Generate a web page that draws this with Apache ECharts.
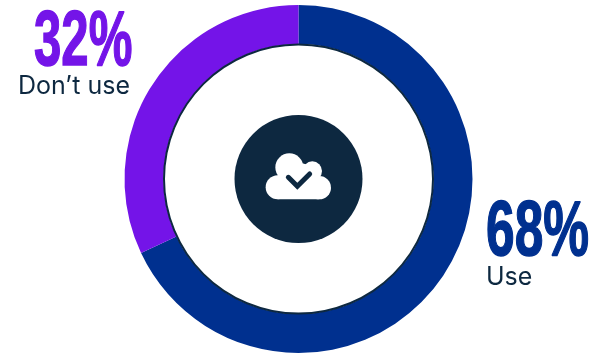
<!DOCTYPE html>
<html>
<head>
<meta charset="utf-8">
<style>html,body{margin:0;padding:0;background:#fff}#c{width:593px;height:354px}</style>
<script src="https://cdn.jsdelivr.net/npm/echarts@6/dist/echarts.min.js"></script>
</head>
<body>
<div id="c"></div>
<script>
// Share of respondents by cloud usage
const categories = ['Use', "Don\u2019t use"];
const values = [68, 32];
const colors = ['#00308F', '#7414E8'];
const ink = '#0D2840';
const center = [298.5, 179];

const chart = echarts.init(document.getElementById('c'), null, {renderer: 'canvas'});

// Large condensed percentage with its caption below
function callout(i, bigX, bigY, squeeze, capX, capY) {
  return [
    {type: 'text', x: bigX, y: bigY, scaleX: squeeze, silent: true,
     style: {text: values[i] + '%', fill: colors[i], stroke: colors[i], lineWidth: 1.5,
             font: 'bold 78px "Liberation Sans Narrow", "Liberation Sans", sans-serif', textVerticalAlign: 'top'}},
    {type: 'text', x: capX, y: capY, silent: true,
     style: {text: categories[i], fill: ink, font: '25px Inter, sans-serif', textVerticalAlign: 'top'}}
  ];
}

// Cloud silhouette built from overlapping lobes on a flat base
const lobes = [[173, 262, 36], [208, 202, 42], [277, 213, 29], [298, 263, 35], [240, 240, 50]];

chart.setOption({
  animation: false,
  backgroundColor: '#fff',
  series: [
    {
      type: 'pie', center: center, radius: [135, 174], startAngle: 90, clockwise: true,
      silent: true, label: {show: false}, labelLine: {show: false},
      data: categories.map((name, i) => ({name, value: values[i], itemStyle: {color: colors[i]}}))
    },
    {
      // thin dark rule along the ring's inner edge
      type: 'pie', center: center, radius: [133.5, 135.5], silent: true,
      label: {show: false}, labelLine: {show: false},
      data: [{name: 'edge', value: 1, itemStyle: {color: ink}}]
    },
    {
      // central badge behind the icon
      type: 'pie', center: center, radius: [0, 64], silent: true,
      label: {show: false}, labelLine: {show: false},
      data: [{name: 'badge', value: 1, itemStyle: {color: ink}}]
    }
  ],
  graphic: [
    ...callout(1, 34, 4, 0.63, 18, 74),
    ...callout(0, 486, 194, 0.66, 486, 265),
    {type: 'group', x: 220, y: 100, scaleX: 1/3, scaleY: 1/3, silent: true, children: [
      ...lobes.map(l => ({type: 'circle', z: 10, shape: {cx: l[0], cy: l[1], r: l[2]}, style: {fill: '#fff'}})),
      {type: 'rect', z: 10, shape: {x: 173, y: 226, width: 125, height: 72}, style: {fill: '#fff'}},
      {type: 'polyline', z: 11, shape: {points: [[205, 232], [232, 259], [269, 222]]},
       style: {fill: 'none', stroke: ink, lineWidth: 15, lineCap: 'round', lineJoin: 'miter'}}
    ]}
  ]
});
</script>
</body>
</html>
